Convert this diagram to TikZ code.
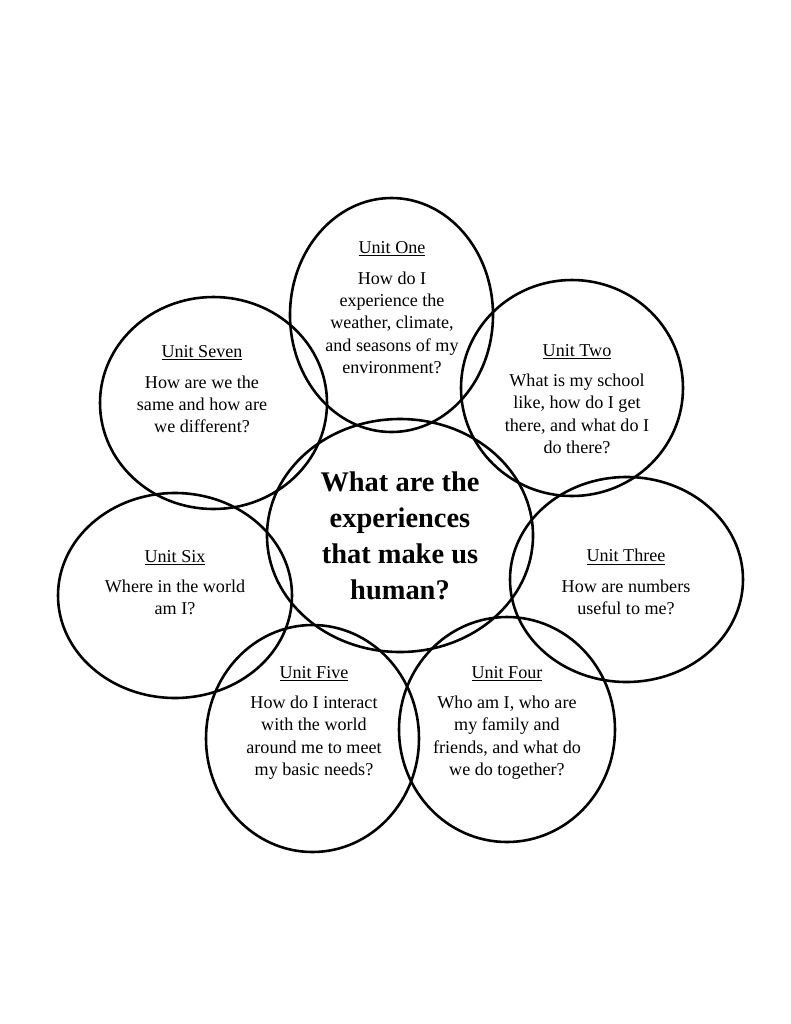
\documentclass[tikz,border=0pt]{standalone}
\usepackage{fontspec}
\setmainfont{Liberation Serif}
\usetikzlibrary{shapes}
\newlength{\lw}
\setlength{\lw}{2pt}
\newlength{\px}
\setlength{\px}{0.7737pt}
\tikzstyle{every picture}+=[x=\px,y=-\px]
\tikzstyle{every picture}+=[line width=\lw]
\tikzstyle{unit}=[draw,ellipse,inner sep=0pt]
\tikzstyle{question}=[align=center,font=\fontsize{14}{17.4}\selectfont]
\tikzstyle{theme}=[align=center,font=\fontsize{22}{27.9}\selectfont\bfseries]
\begin{document}
\begin{tikzpicture}
\useasboundingbox (0,0) rectangle (791,1024);

\node[unit,minimum width=266\px,minimum height=233\px] (core) at (400,535.5) {};
\node[unit,minimum width=203\px,minimum height=234\px] (u1) at (391.5,315) {};
\node[unit,minimum width=222\px,minimum height=216\px] (u2) at (572,388) {};
\node[unit,minimum width=233\px,minimum height=205\px] (u3) at (626.5,579.5) {};
\node[unit,minimum width=216\px,minimum height=225\px] (u4) at (507,729.5) {};
\node[unit,minimum width=213\px,minimum height=227\px] (u5) at (312.5,738.5) {};
\node[unit,minimum width=234\px,minimum height=205\px] (u6) at (175,595.5) {};
\node[unit,minimum width=227\px,minimum height=212\px] (u7) at (213.5,403) {};

\node[theme] (big) at (400,536) {What are the\\experiences\\that make us\\human?};

\node[question] (q1) at (392,308) {\underline{Unit One}\\[6pt]How do I\\experience the\\weather, climate,\\and seasons of my\\environment?};
\node[question] (q2) at (577,399) {\underline{Unit Two}\\[6pt]What is my school\\like, how do I get\\there, and what do I\\do there?};
\node[question] (q3) at (626,582) {\underline{Unit Three}\\[6pt]How are numbers\\useful to me?};
\node[question] (q4) at (507,723) {\underline{Unit Four}\\[6pt]Who am I, who are\\my family and\\friends, and what do\\we do together?};
\node[question] (q5) at (314,723) {\underline{Unit Five}\\[6pt]How do I interact\\with the world\\around me to meet\\my basic needs?};
\node[question] (q6) at (175,582.5) {\underline{Unit Six}\\[6pt]Where in the world\\am I?};
\node[question] (q7) at (202,389.5) {\underline{Unit Seven}\\[6pt]How are we the\\same and how are\\we different?};
\end{tikzpicture}
\end{document}
